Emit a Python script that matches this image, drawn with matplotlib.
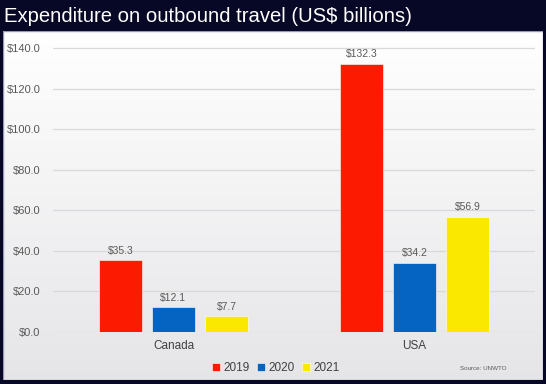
import matplotlib
matplotlib.use("Agg")
import matplotlib.pyplot as plt
import numpy as np
from matplotlib.patches import Rectangle

categories = ["Canada", "USA"]
years = ["2019", "2020", "2021"]
values = {
    "2019": [35.3, 132.3],
    "2020": [12.1, 34.2],
    "2021": [7.7, 56.9],
}
colors = {"2019": "#fc1a00", "2020": "#0563c1", "2021": "#fbe800"}
yticks = [0, 20, 40, 60, 80, 100, 120, 140]

plt.rcParams['font.family'] = ['Liberation Sans', 'DejaVu Sans']

W, H = 546, 384
fig = plt.figure(figsize=(W / 100, H / 100), dpi=100, facecolor="#070726")

# background panel with vertical gradient
bg = fig.add_axes([3 / W, 1 - 380 / H, 540 / W, 349 / H])
grad = np.linspace(1.0, 0.0, 256).reshape(-1, 1)
top = np.array([1.0, 1.0, 1.0])
bot = np.array([0.90, 0.90, 0.91])
img = grad[..., None] * top + (1 - grad[..., None]) * bot
bg.imshow(img, aspect="auto", extent=[0, 1, 0, 1], origin="upper")
bg.set_xlim(0, 1)
bg.set_ylim(0, 1)
bg.axis("off")
bg.add_patch(Rectangle((0, 0), 1, 1, fill=False, edgecolor="#9a98b8", lw=1.0, transform=bg.transAxes))

fig.text(4 / W, 1 - 17 / H, "Expenditure on outbound travel (US$ billions)", color="white",
         fontsize=14.6, va="center", ha="left")

ax = fig.add_axes([53 / W, 1 - 332 / H, 482 / W, (332 - 48) / H * 142 / 140])
ax.patch.set_alpha(0)
x = np.arange(len(categories))
width = 0.178
offset = 0.22
for i, yr in enumerate(years):
    pos = x + (i - 1) * offset
    ax.bar(pos, values[yr], width=width, color=colors[yr], label=yr, zorder=3,
           edgecolor="white", linewidth=0.4)
    for p, v in zip(pos, values[yr]):
        ax.text(p, v + 2.3, f"${v:.1f}", ha="center", va="bottom", fontsize=7.5, color="#595959")

ax.set_xlim(-0.5, 1.5)
ax.set_ylim(0, 142)
ax.set_yticks(yticks)
ax.set_yticklabels([f"${t:.1f}" for t in yticks])
ax.grid(axis="y", color="#d9d9d9", lw=0.9, zorder=0)
ax.tick_params(axis="y", length=0, pad=9, labelsize=8, labelcolor="#595959")
ax.set_xticks(x)
ax.set_xticklabels(categories)
ax.tick_params(axis="x", length=0, pad=6, labelsize=8.5, labelcolor="#404040")
for s in ax.spines.values():
    s.set_visible(False)

fig.legend(loc="center", bbox_to_anchor=(276 / W, 1 - 368 / H), ncol=3, frameon=False,
           fontsize=8.5, handlelength=0.7, handleheight=0.7, handletextpad=0.3,
           columnspacing=0.6, labelcolor="#404040")

fig.text(460 / W, 1 - 368 / H, "Source: UNWTO", fontsize=4.5, color="#595959", ha="left", va="center")

fig.savefig("out.png", dpi=100, facecolor=fig.get_facecolor())
